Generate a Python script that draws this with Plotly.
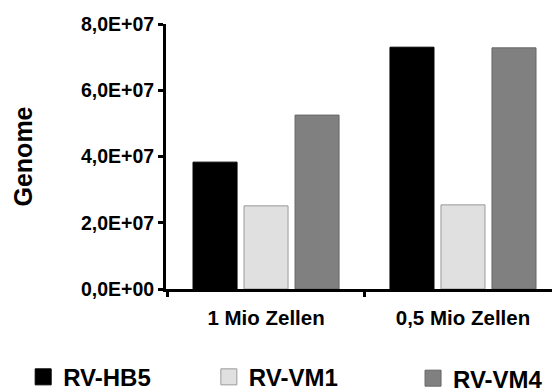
import plotly.graph_objects as go

categories = ["1 Mio Zellen", "0,5 Mio Zellen"]
series_names = ["RV-HB5", "RV-VM1", "RV-VM4"]
hb5 = [3.83e7, 7.30e7]
vm1 = [2.51e7, 2.54e7]
vm4 = [5.25e7, 7.28e7]
tick_vals = [0, 2e7, 4e7, 6e7, 8e7]
tick_text = ["0,0E+00", "2,0E+07", "4,0E+07", "6,0E+07", "8,0E+07"]

FONT = "Liberation Sans, Arial, sans-serif"
fills = ["#000000", "#e0e0e0", "#808080"]
borders = ["#000000", "#9a9a9a", "#666666"]
values = [hb5, vm1, vm4]
legend_ids = ["legend", "legend2", "legend3"]

fig = go.Figure()
for name, vals, fc, bc in zip(series_names, values, fills, borders):
    fig.add_trace(go.Bar(x=categories, y=vals, name=name, showlegend=False,
                         marker=dict(color=fc, line=dict(color=bc, width=1))))
for name, fc, bc, lid in zip(series_names, fills, borders, legend_ids):
    fig.add_trace(go.Scatter(x=[None], y=[None], mode="markers",
                             name="<b>" + name + "</b>",
                             legend=lid, showlegend=True,
                             marker=dict(symbol="square", size=16, color=fc,
                                         line=dict(color=bc, width=1))))

leg_common = dict(orientation="h", yanchor="middle", xanchor="left",
                  font=dict(family=FONT, size=24, color="#000000"),
                  bgcolor="rgba(0,0,0,0)", borderwidth=0)

fig.update_layout(
    width=552, height=392,
    margin=dict(l=166, r=0, t=24, b=103, autoexpand=False),
    paper_bgcolor="white", plot_bgcolor="white",
    barmode="group", bargap=0.223, bargroupgap=0.137,
    font=dict(family=FONT, color="#000000"),
    legend=dict(x=-0.370, y=-0.333, **leg_common),
    legend2=dict(x=0.111, y=-0.333, **leg_common),
    legend3=dict(x=0.640, y=-0.338, **leg_common),
    xaxis=dict(
        type="category", range=[-0.508, 1.452],
        showline=True, linecolor="#000000", linewidth=3,
        ticks="outside", tickson="boundaries", ticklen=5, tickwidth=3,
        tickcolor="#000000", showgrid=False, zeroline=False,
        tickfont=dict(family=FONT, size=20.5, color="#000000"),
        tickprefix="<b>", ticksuffix="</b>",
        ticklabelstandoff=8,
    ),
    yaxis=dict(
        range=[0, 8e7], tickvals=tick_vals,
        ticktext=["<b>" + t + "</b>" for t in tick_text],
        showline=True, linecolor="#000000", linewidth=3,
        ticks="outside", ticklen=5, tickwidth=3, tickcolor="#000000",
        showgrid=False, zeroline=False,
        tickfont=dict(family=FONT, size=19.5, color="#000000"),
        title=dict(text="<b>Genome</b>", standoff=42,
                   font=dict(family=FONT, size=25, color="#000000")),
    ),
)

fig.write_html("out.html", config={"displayModeBar": False},
               post_script="document.body.style.margin='0';document.body.style.overflow='hidden';")
